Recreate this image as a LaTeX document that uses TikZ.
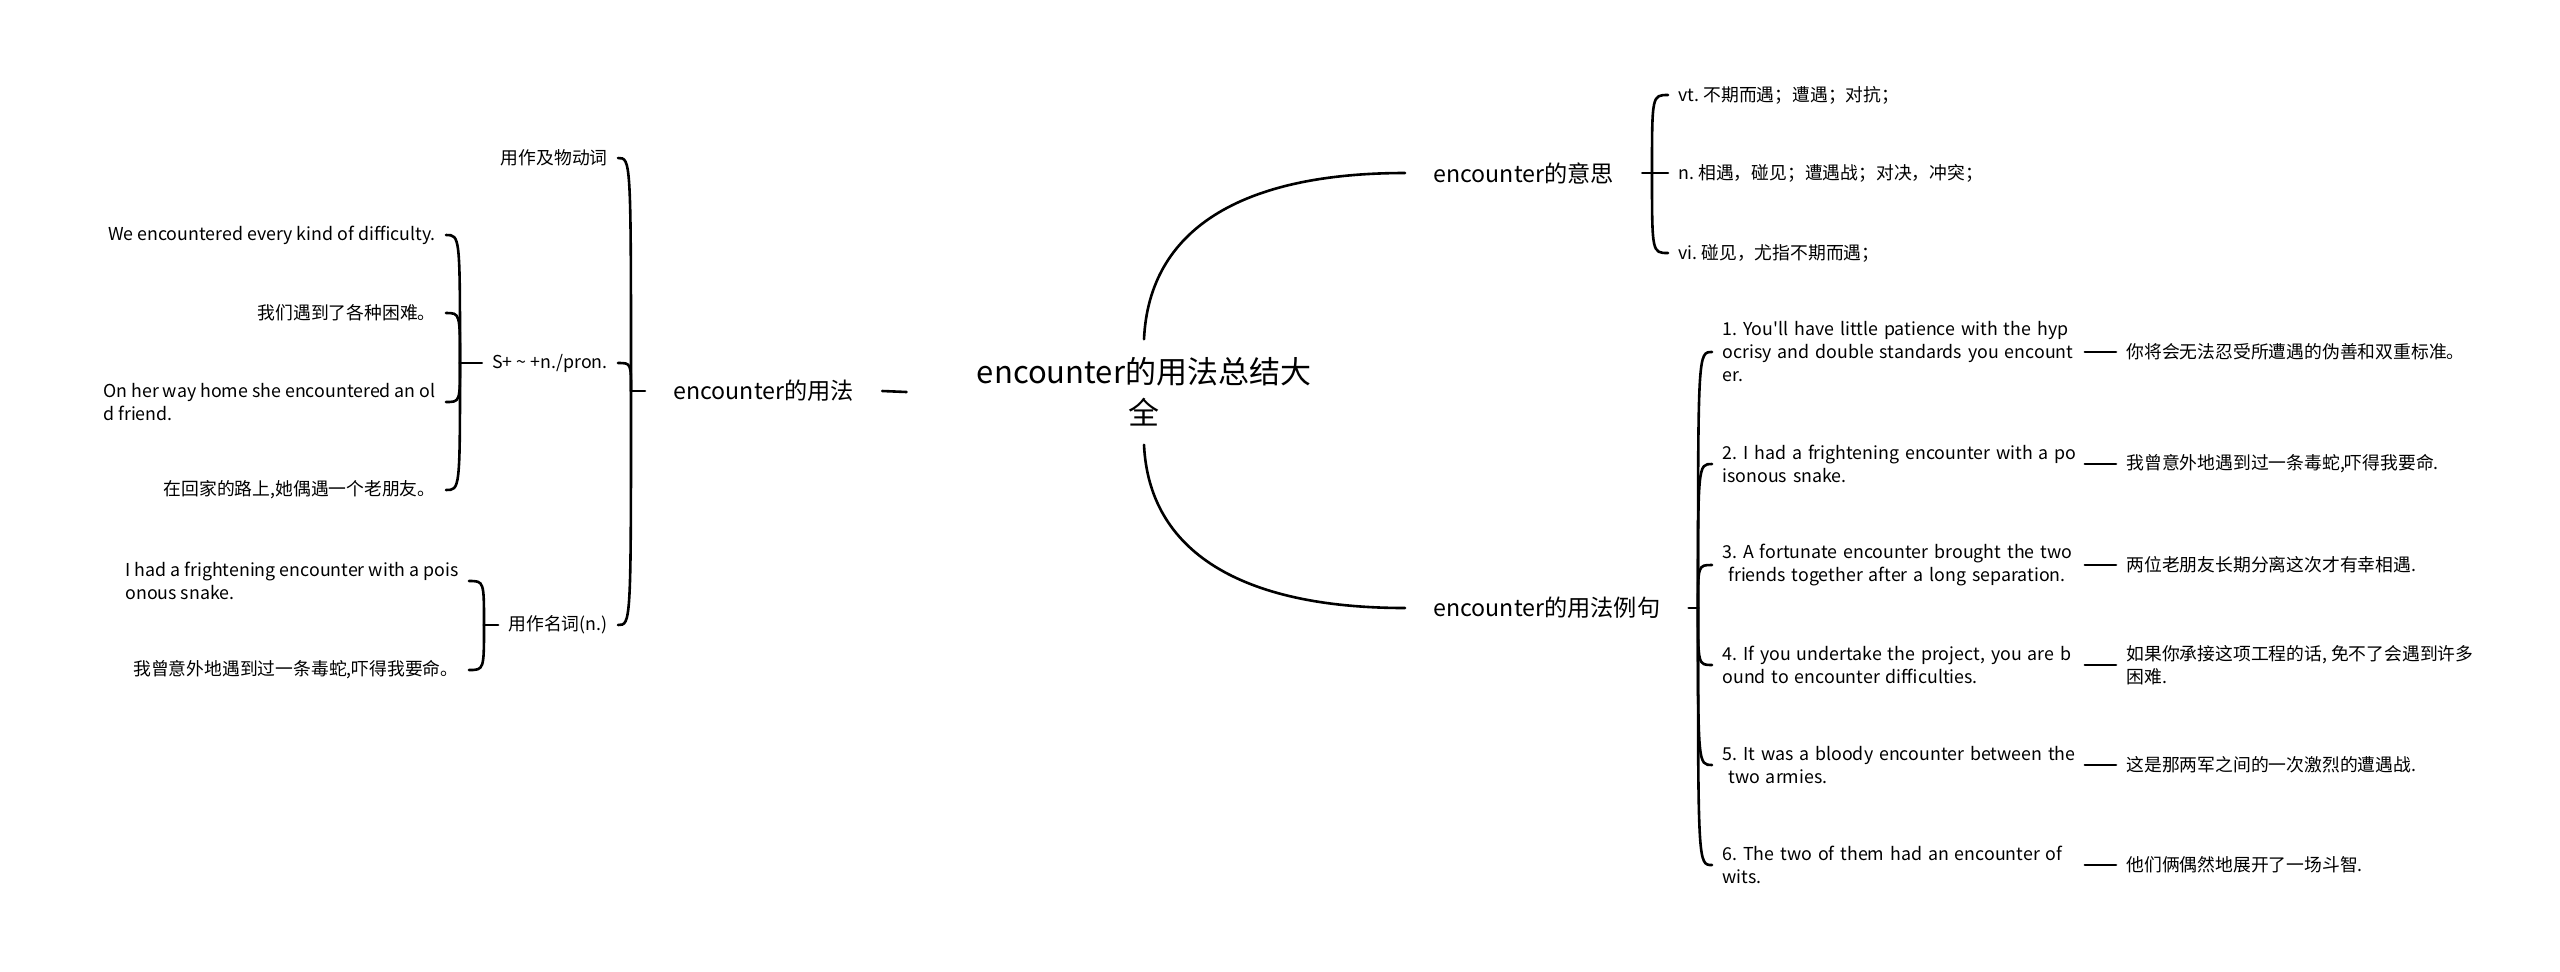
\documentclass[tikz,border=0pt]{standalone}
\usepackage{fontspec}
\setmainfont{Noto Sans CJK SC}
\frenchspacing
\begin{document}
\begin{tikzpicture}[x=0.5pt,y=-0.5pt,
  conn/.style={line width=1.3pt, line cap=round},
  leaf/.style={inner xsep=5pt, inner ysep=2pt, font=\fontsize{8.9pt}{11.5pt}\selectfont\frenchspacing, align=left},
  midnode/.style={inner xsep=14pt, inner ysep=3pt, font=\fontsize{11.6pt}{14pt}\selectfont},
  titlenode/.style={inner xsep=35pt, inner ysep=9pt, font=\fontsize{15.5pt}{20.5pt}\selectfont, align=center},
  exnode/.style={leaf, anchor=west, text width=176pt},
  trnode/.style={leaf, anchor=west}]
\useasboundingbox (0,0) rectangle (2560,971);

% root
\node[titlenode] (root) at (1144,392) {encounter的用法总结大\\全};

% level 1
\node[midnode, anchor=west] (yf) at (645,391) {encounter的用法};
\node[midnode, anchor=west] (mean) at (1405,173) {encounter的意思};
\node[midnode, anchor=west] (ex) at (1405,608) {encounter的用法例句};

\draw[conn] (yf.east) -- (root.west);
\draw[conn] (root.north) .. controls (1149,230) and (1240,173) .. (mean.west);
\draw[conn] (root.south) .. controls (1149,551) and (1240,608) .. (ex.west);

% meanings
\node[leaf, anchor=west] (m1) at (1668,95) {vt. 不期而遇；遭遇；对抗；};
\node[leaf, anchor=west] (m2) at (1668,173) {n. 相遇，碰见；遭遇战；对决，冲突；};
\node[leaf, anchor=west] (m3) at (1668,253) {vi. 碰见，尤指不期而遇；};
\coordinate (jm) at (1652,173);
\draw[conn] (mean.east) -- (m2.west);
\draw[conn] (jm) .. controls (jm |- m1.west) .. (m1.west);
\draw[conn] (jm) .. controls (jm |- m3.west) .. (m3.west);

% examples
\node[exnode] (e1) at (1712,352) {\mbox{1. You\textquotesingle ll have little patience with the hyp}\\\mbox{ocrisy and double standards you encount}\\er.};
\node[exnode] (e2) at (1712,464) {\mbox{2. I had a frightening encounter with a po}\\isonous snake.};
\node[exnode] (e3) at (1712,565) {\mbox{3. A fortunate encounter brought the two}\\\mbox{~friends together after a long separation.}};
\node[exnode] (e4) at (1712,665) {\mbox{4. If you undertake the project, you are b}\\ound to encounter difficulties.};
\node[exnode] (e5) at (1712,765) {\mbox{5. It was a bloody encounter between the}\\\mbox{~two armies.}};
\node[exnode] (e6) at (1712,865) {\mbox{6. The two of them had an encounter of}\\wits.};

\node[trnode] (t1) at (2116,352) {你将会无法忍受所遭遇的伪善和双重标准。};
\node[trnode] (t2) at (2116,464) {我曾意外地遇到过一条毒蛇,吓得我要命.};
\node[trnode] (t3) at (2116,565) {两位老朋友长期分离这次才有幸相遇.};
\node[trnode] (t4) at (2116,665) {如果你承接这项工程的话, 免不了会遇到许多\\困难.};
\node[trnode] (t5) at (2116,765) {这是那两军之间的一次激烈的遭遇战.};
\node[trnode] (t6) at (2116,865) {他们俩偶然地展开了一场斗智.};

\coordinate (je) at (1698,608);
\draw[conn] (ex.east) -- (je);
\foreach \i in {1,...,6}{
  \draw[conn] (je) .. controls (je |- e\i.west) .. (e\i.west);
  \draw[conn] (e\i.east) -- (t\i.west);
}

% left side
\node[leaf, anchor=east] (v1) at (618,158) {用作及物动词};
\node[leaf, anchor=east] (s1) at (618,363) {S+ \textasciitilde{} +n./pron.};
\node[leaf, anchor=east] (n1) at (618,625) {用作名词(n.)};
\coordinate (jl) at (631,391);
\draw[conn] (yf.west) -- (jl);
\draw[conn] (jl) .. controls (jl |- v1.east) .. (v1.east);
\draw[conn] (jl) .. controls (jl |- s1.east) .. (s1.east);
\draw[conn] (jl) .. controls (jl |- n1.east) .. (n1.east);

\node[leaf, anchor=east] (a1) at (446,235) {We encountered every kind of difficulty.};
\node[leaf, anchor=east] (a2) at (446,313) {我们遇到了各种困难。};
\node[leaf, anchor=east] (a3) at (446,402) {On her way home she encountered an ol\\d friend.};
\node[leaf, anchor=east] (a4) at (446,490) {在回家的路上,她偶遇一个老朋友。};
\coordinate (js) at (460,363);
\draw[conn] (s1.west) -- (js);
\foreach \i in {1,...,4}{
  \draw[conn] (js) .. controls (js |- a\i.east) .. (a\i.east);
}

\node[leaf, anchor=east] (b1) at (469,581) {I had a frightening encounter with a pois\\onous snake.};
\node[leaf, anchor=east] (b2) at (469,670) {我曾意外地遇到过一条毒蛇,吓得我要命。};
\coordinate (jn) at (484,625);
\draw[conn] (n1.west) -- (jn);
\draw[conn] (jn) .. controls (jn |- b1.east) .. (b1.east);
\draw[conn] (jn) .. controls (jn |- b2.east) .. (b2.east);
\end{tikzpicture}
\end{document}
